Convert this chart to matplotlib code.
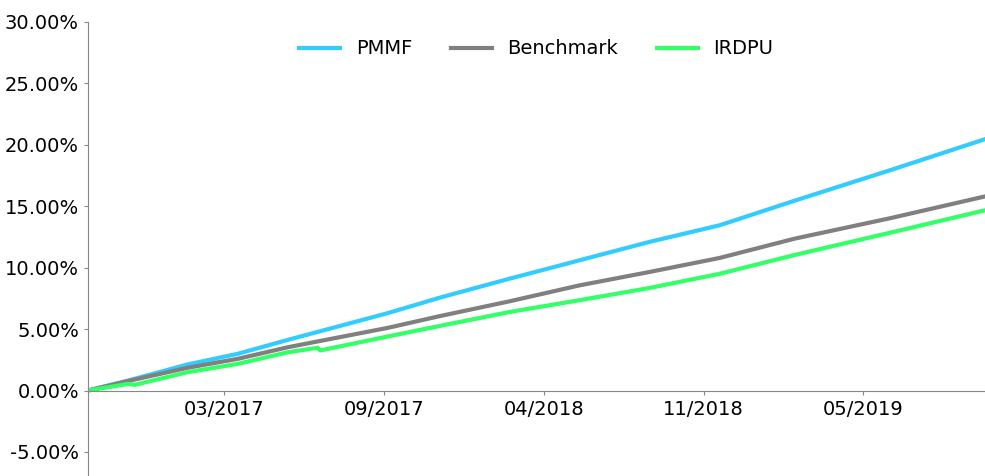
import numpy as np
import matplotlib
matplotlib.use("Agg")
import matplotlib.pyplot as plt
import matplotlib.ticker as ticker

# trading-day index of each sampled value
day = [0, 33, 81, 122, 163, 244, 286, 343, 400, 457, 514, 575, 653, 730]
pmmf = [0.0, 0.0082, 0.0212, 0.0299, 0.0413, 0.0630, 0.0755, 0.0910,
        0.1060, 0.1210, 0.1345, 0.1545, 0.1794, 0.2046]
bench = [0.0, 0.0078, 0.0185, 0.0258, 0.0353, 0.0510, 0.0605, 0.0726,
         0.0856, 0.0965, 0.1079, 0.1236, 0.1403, 0.1580]

# IRDPU has a couple of small dips, so it gets its own sample days
irdpu_day = [0, 33, 38, 81, 122, 163, 187, 189, 244, 286, 343, 400, 457,
             514, 575, 653, 730]
irdpu = [0.0, 0.0054, 0.0046, 0.0149, 0.0217, 0.0312, 0.0348, 0.0326,
         0.0440, 0.0525, 0.0639, 0.0735, 0.0835, 0.0950, 0.1103, 0.1285,
         0.1467]

tick_days = [111, 241, 371, 501, 631]
tick_labels = ["03/2017", "09/2017", "04/2018", "11/2018", "05/2019"]

fig = plt.figure(figsize=(9.85, 4.76), dpi=100)
ax = fig.add_axes([0.0893, 0.0, 0.9107, 0.9538])

ax.plot(day, pmmf, color="#33ccff", lw=3, label="PMMF")
ax.plot(day, bench, color="#808080", lw=3, label="Benchmark")
ax.plot(irdpu_day, irdpu, color="#33ff66", lw=3, label="IRDPU")

ax.set_xlim(0, 730)
ax.set_ylim(-0.0696, 0.30)
ax.yaxis.set_major_locator(ticker.MultipleLocator(0.05))
ax.yaxis.set_major_formatter(ticker.FuncFormatter(lambda v, p: f"{v*100:.2f}%"))
ax.set_xticks(tick_days)
ax.set_xticklabels(tick_labels)

ax.spines["top"].set_visible(False)
ax.spines["right"].set_visible(False)
ax.spines["bottom"].set_position(("data", 0))
for s in ("left", "bottom"):
    ax.spines[s].set_color("#888888")
ax.tick_params(labelsize=14, length=3, color="#888888")

ax.legend(loc="upper center", ncol=3, frameon=False, fontsize=14,
          handlelength=2.1, columnspacing=2.0)

fig.savefig("out.png", dpi=100)
